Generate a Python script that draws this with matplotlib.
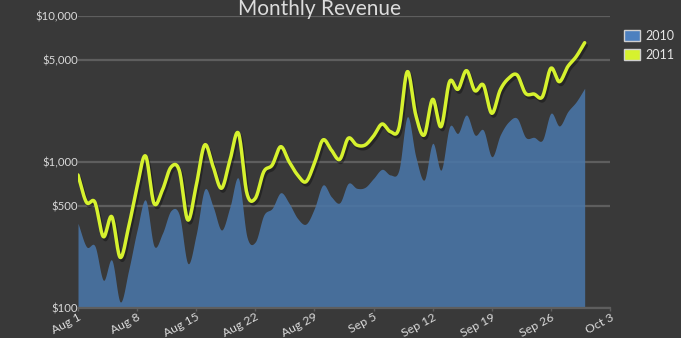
import numpy as np
import matplotlib
matplotlib.use("Agg")
import matplotlib.pyplot as plt
import matplotlib.dates as mdates
import matplotlib.patheffects as pe
from matplotlib.patches import Patch
from matplotlib.ticker import FixedLocator, FuncFormatter, NullLocator
from datetime import date, timedelta

# ---------------- data ----------------
start_date = date(2011, 8, 1)
n_days = 61
dates = [start_date + timedelta(days=i) for i in range(n_days)]

rev_2010 = [380, 263, 266, 155, 213, 110, 182, 342, 549, 266, 325, 464, 433, 202, 320,
            650, 494, 342, 494, 773, 308, 284, 433, 482, 616, 521, 411, 376, 482, 696,
            578, 526, 714, 661, 671, 773, 891, 815, 881, 2043, 1087, 753, 1343, 881, 1746,
            1573, 2099, 1531, 1656, 1087, 1531, 1888, 1991, 1476, 1476, 1414, 2157, 1765,
            2213, 2588, 3199]
rev_2011 = [815, 530, 530, 308, 422, 222, 360, 678, 1099, 521, 643, 920, 872, 401, 690,
            1307, 929, 661, 1032, 1573, 611, 564, 858, 953, 1273, 1005, 815, 733, 979, 1414,
            1208, 1043, 1453, 1307, 1307, 1507, 1820, 1613, 1702, 4156, 2099, 1531, 2686, 1746,
            3548, 3148, 4225, 3080, 3367, 2157, 3112, 3744, 3945, 2953, 2920, 2800, 4385, 3548,
            4500, 5272, 6561]
series_names = ["2010", "2011"]
y_ticks = [100, 500, 1000, 5000, 10000]
y_tick_labels = ["$100", "$500", "$1,000", "$5,000", "$10,000"]
title = "Monthly Revenue"

# ---------------- style ----------------
BG = "#393939"
GRID = "#5e5e5e"
TXT = "#d9d9d9"
AREA = "#4a76a8"
AREA_LEG = "#4d80bf"
LINE = "#d6f22e"
plt.rcParams["font.family"] = ["Lato", "DejaVu Sans"]


def smooth(xs, ys, steps=16):
    """Catmull-Rom curve through the points (drawn in log space)."""
    x = np.asarray(xs, float)
    y = np.log10(np.asarray(ys, float))
    n = len(x)
    m = np.zeros(n)
    m[1:-1] = (y[2:] - y[:-2]) / (x[2:] - x[:-2])
    m[0] = (y[1] - y[0]) / (x[1] - x[0])
    m[-1] = (y[-1] - y[-2]) / (x[-1] - x[-2])
    ox, oy = [], []
    for i in range(n - 1):
        h = x[i + 1] - x[i]
        t = np.linspace(0, 1, steps, endpoint=False)
        h00 = 2 * t**3 - 3 * t**2 + 1
        h10 = t**3 - 2 * t**2 + t
        h01 = -2 * t**3 + 3 * t**2
        h11 = t**3 - t**2
        ox.extend(x[i] + t * h)
        oy.extend(h00 * y[i] + h10 * h * m[i] + h01 * y[i + 1] + h11 * h * m[i + 1])
    ox.append(x[-1])
    oy.append(y[-1])
    return np.array(ox), 10 ** np.array(oy)


W, H = 681, 338
fig = plt.figure(figsize=(W / 100, H / 100), dpi=100, facecolor=BG)
L, R, T, B = 78, 610, 16, 308
ax = fig.add_axes([L / W, (H - B) / H, (R - L) / W, (B - T) / H], facecolor=BG)

xnum = mdates.date2num(dates)
sx, s10 = smooth(xnum, rev_2010)
_, s11 = smooth(xnum, rev_2011)

ax.set_yscale("log")
ax.set_ylim(100, 10000)
x0 = mdates.date2num(start_date)
ax.set_xlim(x0, x0 + 63)

# grid
ax.yaxis.set_major_locator(FixedLocator(y_ticks))
ax.yaxis.set_minor_locator(NullLocator())
ax.yaxis.set_major_formatter(FuncFormatter(lambda v, p: y_tick_labels[y_ticks.index(int(round(v)))] if int(round(v)) in y_ticks else ""))
ax.grid(axis="y", color=GRID, lw=1.6, zorder=0)
ax.set_axisbelow(True)

ax.fill_between(sx, 100, s10, color=AREA, alpha=0.88, lw=0, zorder=2)
ax.plot(sx, s11, color=LINE, lw=2.5, zorder=3, solid_capstyle="round",
        path_effects=[pe.SimpleLineShadow(offset=(1.2, -2.0), shadow_color="black", alpha=0.35),
                      pe.Normal()])

# x ticks weekly
xt = [x0 + 7 * k for k in range(10)]
ax.set_xticks(xt)
ax.set_xticklabels([f"{mdates.num2date(v):%b} {mdates.num2date(v).day}" for v in xt],
                   rotation=28, ha="right", va="top", rotation_mode="anchor")
ax.tick_params(axis="x", colors=GRID, length=2, width=1, pad=0.5, labelcolor=TXT, labelsize=8.8)
ax.tick_params(axis="y", length=0, pad=0, labelcolor=TXT, labelsize=8.2)
ax.xaxis.set_minor_locator(NullLocator())

for s in ["left", "right", "top"]:
    ax.spines[s].set_visible(False)
ax.spines["bottom"].set_color(GRID)
ax.spines["bottom"].set_linewidth(1.6)

fig.text(320 / W, (H - 15) / H, title, ha="center", va="baseline",
         fontsize=15, color="#dcdcdc")

handles = [Patch(facecolor=AREA_LEG, edgecolor="#cfcfcf", lw=1),
           Patch(facecolor=LINE, edgecolor="#cfcfcf", lw=1)]
fig.legend(handles, series_names, loc="upper left", bbox_to_anchor=(624 / W, 1 - 30 / H),
           frameon=False, fontsize=9, labelcolor="#e6e6e6", handlelength=1.25,
           handleheight=1.0, handletextpad=0.45, labelspacing=0.55, borderpad=0,
           borderaxespad=0)

fig.savefig("out.png", dpi=100, facecolor=BG)
